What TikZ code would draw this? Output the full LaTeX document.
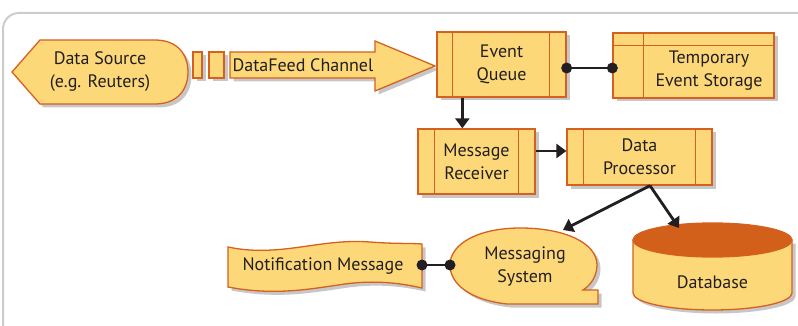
\documentclass[tikz,border=0pt]{standalone}
\usepackage{fontspec}
\setmainfont{PT Sans}
\usetikzlibrary{arrows.meta,shadows,calc}
\definecolor{boxfill}{RGB}{252,216,120}
\definecolor{boxline}{RGB}{214,96,32}
\definecolor{dbtop}{RGB}{210,96,26}
\definecolor{ink}{RGB}{35,31,32}
\definecolor{frame}{RGB}{204,204,204}
\tikzset{
  shp/.style={fill=boxfill, draw=boxline, line width=1.3pt, line join=miter,
    drop shadow={shadow xshift=3.5pt, shadow yshift=-3.5pt, fill=black, opacity=0.22}},
  box/.style={shp, rectangle, inner sep=0pt, align=center, text=ink},
  txt/.style={align=center, text=ink, inner sep=0pt},
  divl/.style={draw=boxline, line width=1.3pt},
  arr/.style={draw=ink, line width=2.8pt, -{Triangle[length=10pt,width=14pt]}},
  link/.style={draw=ink, line width=2.8pt},
  dot/.style={circle, fill=ink, inner sep=0pt, minimum size=11pt},
}
\begin{document}
\begin{tikzpicture}[x=1pt,y=-1pt, font=\fontsize{18}{23}\selectfont]
\useasboundingbox (0,0) rectangle (798,326);
\begin{scope}
\clip (0,0) rectangle (798,326);
\draw[frame, line width=2pt, rounded corners=16pt] (3,13) rectangle (830,360);
\end{scope}

% Data source
\path[shp] (12,72) -- (40,40) -- (155,40) .. controls (178,40) and (188,55) .. (188,72)
  .. controls (188,89) and (178,104) .. (155,104) -- (40,104) -- cycle;
\node[txt] (ds) at (100,72) {Data Source\\(e.g. Reuters)};

% channel blocks and arrow
\path[shp] (193,52) rectangle (202,78);
\path[shp] (209,52) rectangle (224,78);
\path[shp] (230,52) -- (375,52) -- (375,41) -- (435,66) -- (375,91) -- (375,78) -- (230,78) -- cycle;
\node[txt] (dfc) at (303,65) {DataFeed Channel};

% Event Queue
\node[box, minimum width=129pt, minimum height=65pt] (eq) at (501.5,64.5) {Event\\Queue};
\draw[divl] ([xshift=16pt]eq.north west) -- ([xshift=16pt]eq.south west);
\draw[divl] ([xshift=-17pt]eq.north east) -- ([xshift=-17pt]eq.south east);

% Temporary event storage
\node[box, minimum width=161pt, minimum height=65pt] (tes) at (693.5,65.5) {};
\draw[divl] ([yshift=-13pt]tes.north west) -- ([yshift=-13pt]tes.north east);
\draw[divl] ([xshift=31pt]tes.north west) -- ([xshift=31pt]tes.south west);
\node[txt] (test) at (709,71) {Temporary\\Event Storage};

% Message receiver
\node[box, minimum width=117pt, minimum height=65pt] (mr) at (476.5,161.5) {Message\\Receiver};
\draw[divl] ([xshift=17pt]mr.north west) -- ([xshift=17pt]mr.south west);
\draw[divl] ([xshift=-17pt]mr.north east) -- ([xshift=-17pt]mr.south east);

% Data processor
\node[box, minimum width=145pt, minimum height=56pt] (dp) at (639.5,157) {Data\\Processor};
\draw[divl] ([xshift=17pt]dp.north west) -- ([xshift=17pt]dp.south west);
\draw[divl] ([xshift=-17pt]dp.north east) -- ([xshift=-17pt]dp.south east);

% Messaging system bubble
\path[shp] (507,304) .. controls (470,300) and (450,284) .. (450,265)
  .. controls (450,243) and (480,228) .. (520,228)
  .. controls (565,228) and (597,243) .. (597,265)
  .. controls (597,276) and (591,285) .. (583,290)
  -- (598,290) -- (598,304) -- cycle;
\node[txt] (ms) at (525,266) {Messaging\\System};

% Database
\path[shp] (633,240) -- (633,293) arc[start angle=180, end angle=360, x radius=79.5pt, y radius=17pt]
  -- (792,240) -- cycle;
\fill[boxfill] (712.5,240) ellipse[x radius=78.8pt, y radius=16.4pt];
\draw[boxline, line width=1.3pt, fill=dbtop] (712.5,240) ellipse[x radius=79.5pt, y radius=17pt];
\node[txt] (db) at (712.5,282) {Database};

% Notification message banner
\path[shp] (228,247) .. controls (280,258) and (320,238) .. (370,242)
  .. controls (395,244) and (410,243) .. (422,244) -- (422,288)
  .. controls (400,283) and (375,280) .. (345,284)
  .. controls (310,289) and (275,296) .. (228,287) -- cycle;
\node[txt] (nm) at (323,266) {Notification Message};

% connectors
\coordinate (eqDot) at ([yshift=-3.5pt]eq.east);
\coordinate (tesDot) at (eqDot -| tes.west);
\draw[link] (eqDot) -- (tesDot);
\node[dot] (d1) at (eqDot) {};
\node[dot] (d2) at (tesDot) {};

\coordinate (nmDot) at (422,265);
\coordinate (msDot) at (450,265);
\draw[link] (nmDot) -- (msDot);
\node[dot] (d3) at (nmDot) {};
\node[dot] (d4) at (msDot) {};

\draw[arr] ([xshift=26pt]eq.south west) -- ([xshift=26pt]eq.south west |- mr.north);
\draw[arr] ([yshift=10.5pt]mr.east) -- ([yshift=10.5pt]mr.east -| dp.west);
\coordinate (dpOut) at ([xshift=10.5pt]dp.south);
\coordinate (msIn) at (563,230);
\coordinate (dbIn) at (679,228);
\draw[arr] (dpOut) -- (msIn);
\draw[arr] (dpOut) -- (dbIn);
\end{tikzpicture}
\end{document}
